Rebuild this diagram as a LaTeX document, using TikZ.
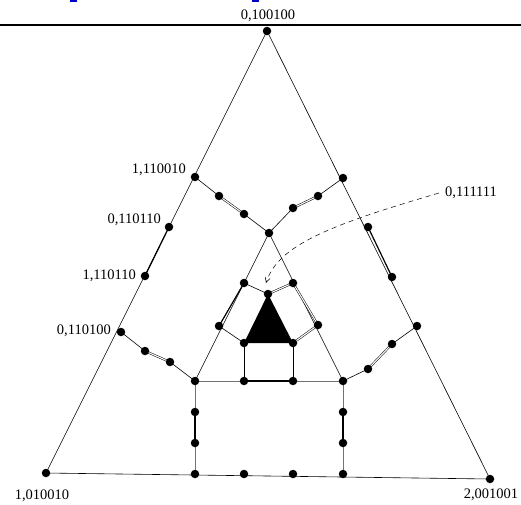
\documentclass[tikz,border=0pt]{standalone}
\usepackage{fontspec}
\setmainfont{Liberation Serif}
\usetikzlibrary{arrows.meta}
\begin{document}
\begin{tikzpicture}[x=1pt,y=-1pt,
  dot/.style={circle,fill=black,inner sep=0pt,minimum size=8.5pt},
  edge/.style={line width=0.6pt},
  dbl/.style={double,double distance=1.1pt,line width=0.5pt},
  thk/.style={line width=1.2pt},
  boxln/.style={black!55,line width=1pt,dash pattern=on 1.5pt off 0.5pt},
  lbl/.style={font=\fontsize{14.5}{16}\selectfont,inner sep=0pt}]
\useasboundingbox (0,0) rectangle (521,504);
% page fragments
\fill[blue!80!black] (70,0) rectangle (77,2);
\fill[blue!80!black] (252,0) rectangle (259,2);
\draw[line width=2.6pt] (0,25) -- (521,25);
% coordinates
\coordinate (A) at (267,31); \coordinate (B) at (46,473); \coordinate (C) at (490,479);
\coordinate (l1) at (195,177); \coordinate (l2) at (169,227); \coordinate (l3) at (145,276); \coordinate (l4) at (121,332);
\coordinate (r1) at (343,178); \coordinate (r2) at (368,227); \coordinate (r3) at (392,277); \coordinate (r4) at (417,326);
\coordinate (t1) at (219,196); \coordinate (t2) at (244,214); \coordinate (T) at (269,233);
\coordinate (t3) at (293,208); \coordinate (t4) at (318,196);
\coordinate (b1) at (145,351); \coordinate (b2) at (170,362); \coordinate (L) at (195,381);
\coordinate (R) at (343,381); \coordinate (c1) at (368,369); \coordinate (c2) at (392,344);
\coordinate (i1) at (244,283); \coordinate (i2) at (219,326); \coordinate (i3) at (293,283); \coordinate (i4) at (318,325);
\coordinate (K) at (268,294); \coordinate (P) at (244,343); \coordinate (Q) at (293,343);
\coordinate (x1) at (244,381); \coordinate (x2) at (293,381);
\coordinate (y1) at (195,412); \coordinate (y2) at (195,443); \coordinate (y3) at (195,474);
\coordinate (y4) at (244,474); \coordinate (y5) at (293,474); \coordinate (y6) at (343,474);
\coordinate (y7) at (343,443); \coordinate (y8) at (343,412);
% outer triangle
\draw[edge] (A) -- (B) -- (C) -- cycle;
\draw[thk] (l2) -- (l3);
\draw[thk] (r2) -- (r3);
% inner triangle
\draw[edge] (L) -- (T) -- (R);
\draw[thk] (i1) -- (i2);
\draw[dbl] (i3) -- (i4);
% box
\draw[boxln] (L) -- (x1);
\draw[boxln] (x2) -- (R);
\draw[boxln] (L) -- (y1); \draw[boxln] (y2) -- (y3);
\draw[boxln] (R) -- (y8); \draw[boxln] (y7) -- (y6);
\draw[thk] (y1) -- (y2);
\draw[thk] (y8) -- (y7);
% top path
\draw[edge] (l1) -- (t1); \draw[dbl] (t1) -- (t2); \draw[edge] (t2) -- (T);
\draw[edge] (T) -- (t3); \draw[dbl] (t3) -- (t4); \draw[edge] (t4) -- (r1);
% bottom-left path
\draw[edge] (l4) -- (b1); \draw[dbl] (b1) -- (b2); \draw[edge] (b2) -- (L);
% bottom-right path
\draw[edge] (R) -- (c1); \draw[dbl] (c1) -- (c2); \draw[edge] (c2) -- (r4);
% inner links
\draw[edge] (i1) -- (K); \draw[dbl] (K) -- (i3);
\draw[edge] (i2) -- (P); \draw[dbl] (i4) -- (Q);
\fill (K) -- (P) -- (Q) -- cycle;
\draw[line width=1pt] (P) -- (x1);
\draw[line width=1pt] (Q) -- (x2);
\draw[line width=1.3pt] (x1) -- (x2);
% dots
\foreach \p in {A,B,C,l1,l2,l3,l4,r1,r2,r3,r4,t1,t2,T,t3,t4,b1,b2,L,R,c1,c2,i1,i2,i3,i4,K,P,Q,x1,x2,y1,y2,y3,y4,y5,y6,y7,y8}
  \node[dot] (d\p) at (\p) {};
% labels
\node[lbl] (nA) at (268,16) {0,100100};
\node[lbl,anchor=east] (nl1) at (186,170) {1,110010};
\node[lbl,anchor=east] (nl2) at (161,220) {0,110110};
\node[lbl,anchor=east] (nl3) at (136,276) {1,110110};
\node[lbl,anchor=east] (nl4) at (111,331) {0,110100};
\node[lbl] (nB) at (42,496) {1,010010};
\node[lbl] (nC) at (491,495) {2,001001};
\node[lbl,anchor=west] (nS) at (445,193) {0,111111};
\coordinate (start) at ([xshift=-6pt]nS.west);
\coordinate (tip) at (266,283);
\draw[dash pattern=on 5pt off 4pt,line width=0.5pt,-{Straight Barb[length=5pt,width=5pt]}]
  (start) .. controls (330,225) and (278,245) .. (tip);
\end{tikzpicture}
\end{document}
